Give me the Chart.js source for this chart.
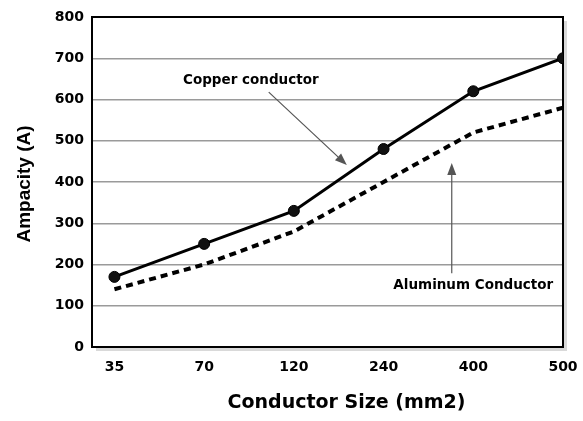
<!DOCTYPE html>
<html>
<head>
<meta charset="utf-8">
<script src="https://cdn.jsdelivr.net/npm/chart.js@4/dist/chart.umd.min.js"></script>
<style>
  html, body { margin: 0; padding: 0; background: #ffffff; }
  #wrap { width: 583px; height: 421px; }
</style>
</head>
<body>
<div id="wrap"><canvas id="c" width="583" height="421"></canvas></div>
<script>
// ---- data ----
const categories = ['35', '70', '120', '240', '400', '500'];
const copperValues = [170, 250, 330, 480, 620, 700];
const aluminumValues = [140, 200, 280, 400, 520, 580];
const yTicks = [0, 100, 200, 300, 400, 500, 600, 700, 800];
const xTitle = 'Conductor Size (mm2)';
const yTitle = 'Ampacity (A)';
// annotations in data space: [category index, value]
const copperLabel = { text: 'Copper conductor', at: [1.52, 647] };
const copperArrow = { from: [1.72, 618], to: [2.59, 441] };
const aluminumLabel = { text: 'Aluminum Conductor', at: [4.0, 148] };
const aluminumArrow = { from: [3.76, 179], to: [3.76, 446] };

const toPoints = vals => vals.map((v, i) => ({ x: i, y: v }));

function drawArrow(ctx, x1, y1, x2, y2) {
  const ang = Math.atan2(y2 - y1, x2 - x1);
  const hl = 12, hw = 4.5;
  const bx = x2 - hl * Math.cos(ang), by = y2 - hl * Math.sin(ang);
  ctx.save();
  ctx.strokeStyle = '#555';
  ctx.fillStyle = '#555';
  ctx.lineWidth = 1.2;
  ctx.beginPath();
  ctx.moveTo(x1, y1);
  ctx.lineTo(bx, by);
  ctx.stroke();
  ctx.beginPath();
  ctx.moveTo(x2, y2);
  ctx.lineTo(bx + hw * Math.sin(ang), by - hw * Math.cos(ang));
  ctx.lineTo(bx - hw * Math.sin(ang), by + hw * Math.cos(ang));
  ctx.closePath();
  ctx.fill();
  ctx.restore();
}

const framePlugin = {
  id: 'frame',
  beforeDatasetsDraw(chart) {
    const { ctx, chartArea: a } = chart;
    ctx.save();
    ctx.strokeStyle = 'rgba(0,0,0,0.15)';
    ctx.lineWidth = 3;
    ctx.beginPath();
    ctx.moveTo(a.right + 2.5, a.top + 4);
    ctx.lineTo(a.right + 2.5, a.bottom + 2.5);
    ctx.lineTo(a.left + 4, a.bottom + 2.5);
    ctx.stroke();
    ctx.strokeStyle = '#000';
    ctx.lineWidth = 2;
    ctx.strokeRect(a.left, a.top, a.right - a.left, a.bottom - a.top);
    ctx.restore();
  },
  afterDraw(chart) {
    const { ctx, chartArea: a, scales } = chart;
    const xs = scales.x, ys = scales.y;
    const px = p => [xs.getPixelForValue(p[0]), ys.getPixelForValue(p[1])];
    ctx.save();
    ctx.fillStyle = '#000';
    ctx.font = 'bold 13.5px "DejaVu Sans"';
    ctx.textAlign = 'center';
    ctx.textBaseline = 'middle';
    let p = px(copperLabel.at);
    ctx.fillText(copperLabel.text, p[0], p[1]);
    p = px(aluminumLabel.at);
    ctx.fillText(aluminumLabel.text, p[0], p[1]);
    let f = px(copperArrow.from), t = px(copperArrow.to);
    drawArrow(ctx, f[0], f[1], t[0], t[1]);
    f = px(aluminumArrow.from); t = px(aluminumArrow.to);
    drawArrow(ctx, f[0], f[1], t[0], t[1]);

    ctx.fillStyle = '#000';
    ctx.font = 'bold 19px "DejaVu Sans"';
    ctx.fillText(xTitle, (a.left + a.right) / 2 + 19, 403);
    ctx.save();
    ctx.translate(25, (a.top + a.bottom) / 2 + 2);
    ctx.rotate(-Math.PI / 2);
    ctx.font = 'bold 19px "Liberation Sans"';
    ctx.fillText(yTitle, 0, 0);
    ctx.restore();
    ctx.restore();
  }
};

new Chart(document.getElementById('c'), {
  type: 'line',
  data: {
    datasets: [
      {
        label: 'Copper conductor',
        data: toPoints(copperValues),
        borderColor: '#000',
        backgroundColor: '#000',
        borderWidth: 3,
        pointRadius: 5.5,
        pointBackgroundColor: '#111',
        pointBorderColor: '#000',
        pointBorderWidth: 1,
        tension: 0,
        order: 1
      },
      {
        label: 'Aluminum Conductor',
        data: toPoints(aluminumValues),
        borderColor: '#000',
        borderWidth: 4,
        borderDash: [7, 5],
        pointRadius: 0,
        tension: 0,
        order: 2
      }
    ]
  },
  options: {
    responsive: false,
    animation: false,
    devicePixelRatio: 1,
    layout: { padding: { top: 17, right: 20, left: 0, bottom: 0 } },
    plugins: {
      legend: { display: false },
      tooltip: { enabled: false }
    },
    scales: {
      x: {
        type: 'linear',
        min: -0.25,
        max: categories.length - 1,
        afterBuildTicks: s => { s.ticks = categories.map((c, i) => ({ value: i })); },
        afterFit: s => { s.height = 74; s.paddingLeft = 0; s.paddingRight = 0; },
        ticks: {
          callback: (v) => categories[v] ?? '',
          color: '#000',
          font: { family: 'DejaVu Sans', size: 14, weight: 'bold' },
          padding: 12,
          maxRotation: 0,
          autoSkip: false
        },
        grid: { display: false, drawTicks: false },
        border: { display: false }
      },
      y: {
        min: 0,
        max: 800,
        afterBuildTicks: s => { s.ticks = yTicks.map(v => ({ value: v })); },
        afterFit: s => { s.width = 92; s.paddingTop = 0; s.paddingBottom = 0; },
        ticks: {
          color: '#000',
          font: { family: 'DejaVu Sans', size: 14, weight: 'bold' },
          padding: 8
        },
        grid: {
          drawTicks: false,
          color: ctx => (ctx.tick && (ctx.tick.value === 0 || ctx.tick.value === 800)) ? 'rgba(0,0,0,0)' : '#9a9a9a',
          lineWidth: 1.5
        },
        border: { display: false }
      }
    }
  },
  plugins: [framePlugin]
});
</script>
</body>
</html>
